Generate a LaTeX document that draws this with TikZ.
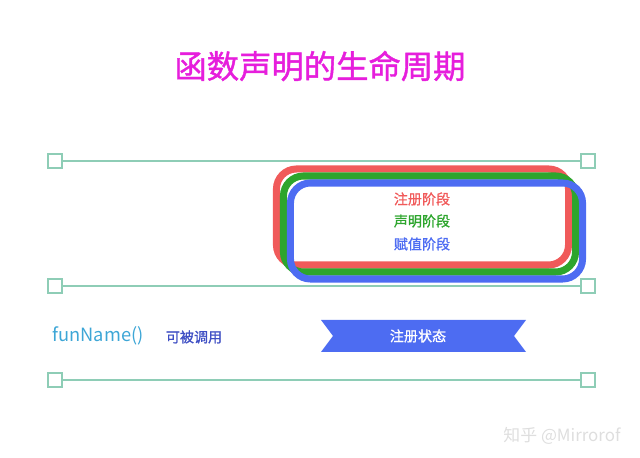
\documentclass[tikz,border=0pt]{standalone}
\usepackage{fontspec}
\setmainfont{Noto Sans CJK SC}
\newfontfamily\cjkbold{Noto Sans CJK SC}[FakeBold=1.2]
\usepackage{tikz}
\usetikzlibrary{positioning}
\usepackage{xcolor}

\definecolor{titlemag}{HTML}{E61EDC}
\definecolor{linegreen}{HTML}{8ECDB6}
\definecolor{phasered}{HTML}{F05A5A}
\definecolor{phasegreen}{HTML}{2DA52D}
\definecolor{phaseblue}{HTML}{4D6CF2}
\definecolor{namecyan}{HTML}{3DA6D6}
\definecolor{calldark}{HTML}{3F4FC4}
\definecolor{markgray}{HTML}{DEDEDE}

\begin{document}
\begin{tikzpicture}[
    x=0.025cm, y=-0.025cm,
    endbox/.style={
      draw=linegreen,
      line width=1.4pt,
      fill=white,
      minimum size=0.36cm,
      inner sep=0pt
    },
    phasebox/.style={
      line width=5pt,
      rounded corners=0.5cm,
      minimum width=7.3cm,
      minimum height=2.4cm,
      inner sep=0pt
    },
    phase/.style={font=\cjkbold\fontsize{10}{12}\selectfont}
  ]

    \useasboundingbox (0,0) rectangle (640,458);

    % Título
    \node[text=titlemag, font=\cjkbold\fontsize{23}{27}\selectfont] (title) at (320,66)
      {函数声明的生命周期};

    % Líneas de tiempo
    \foreach \row/\ypos in {top/161, mid/286, low/380} {
      \node[endbox] (\row L) at (55,\ypos) {};
      \node[endbox] (\row R) at (588,\ypos) {};
      \draw[linegreen, line width=1.4pt] (\row L) -- (\row R);
    }

    % Fases
    \node[phasebox, draw=phasered] (redbox) at (422.5,217) {};
    \node[phasebox, draw=phasegreen] (greenbox) at (429.5,224) {};
    \node[phasebox, draw=phaseblue] (bluebox) at (436.5,231) {};

    \node[phase, text=phasered] (register) at (422,199) {注册阶段};
    \node[phase, text=phasegreen] (declare) at (422,221) {声明阶段};
    \node[phase, text=phaseblue] (assign) at (422,244) {赋值阶段};

    % Estado
    \node[text=namecyan, font=\fontsize{13}{15}\selectfont] (fname) at (98,336)
      {funName()};
    \node[text=calldark, font=\cjkbold\fontsize{10}{12}\selectfont] (callable) at (194,337)
      {可被调用};

    \fill[phaseblue] (321,320) -- (526,320) -- (514,336) -- (526,352)
      -- (321,352) -- (333,336) -- cycle;
    \node[text=white, font=\cjkbold\fontsize{10}{12}\selectfont] (state) at (418,336)
      {注册状态};

    % Marca de agua
    \node[text=markgray, font=\fontsize{12}{14}\selectfont] (mark) at (562,436)
      {知乎 @Mirrorof};

  \end{tikzpicture}
\end{document}
